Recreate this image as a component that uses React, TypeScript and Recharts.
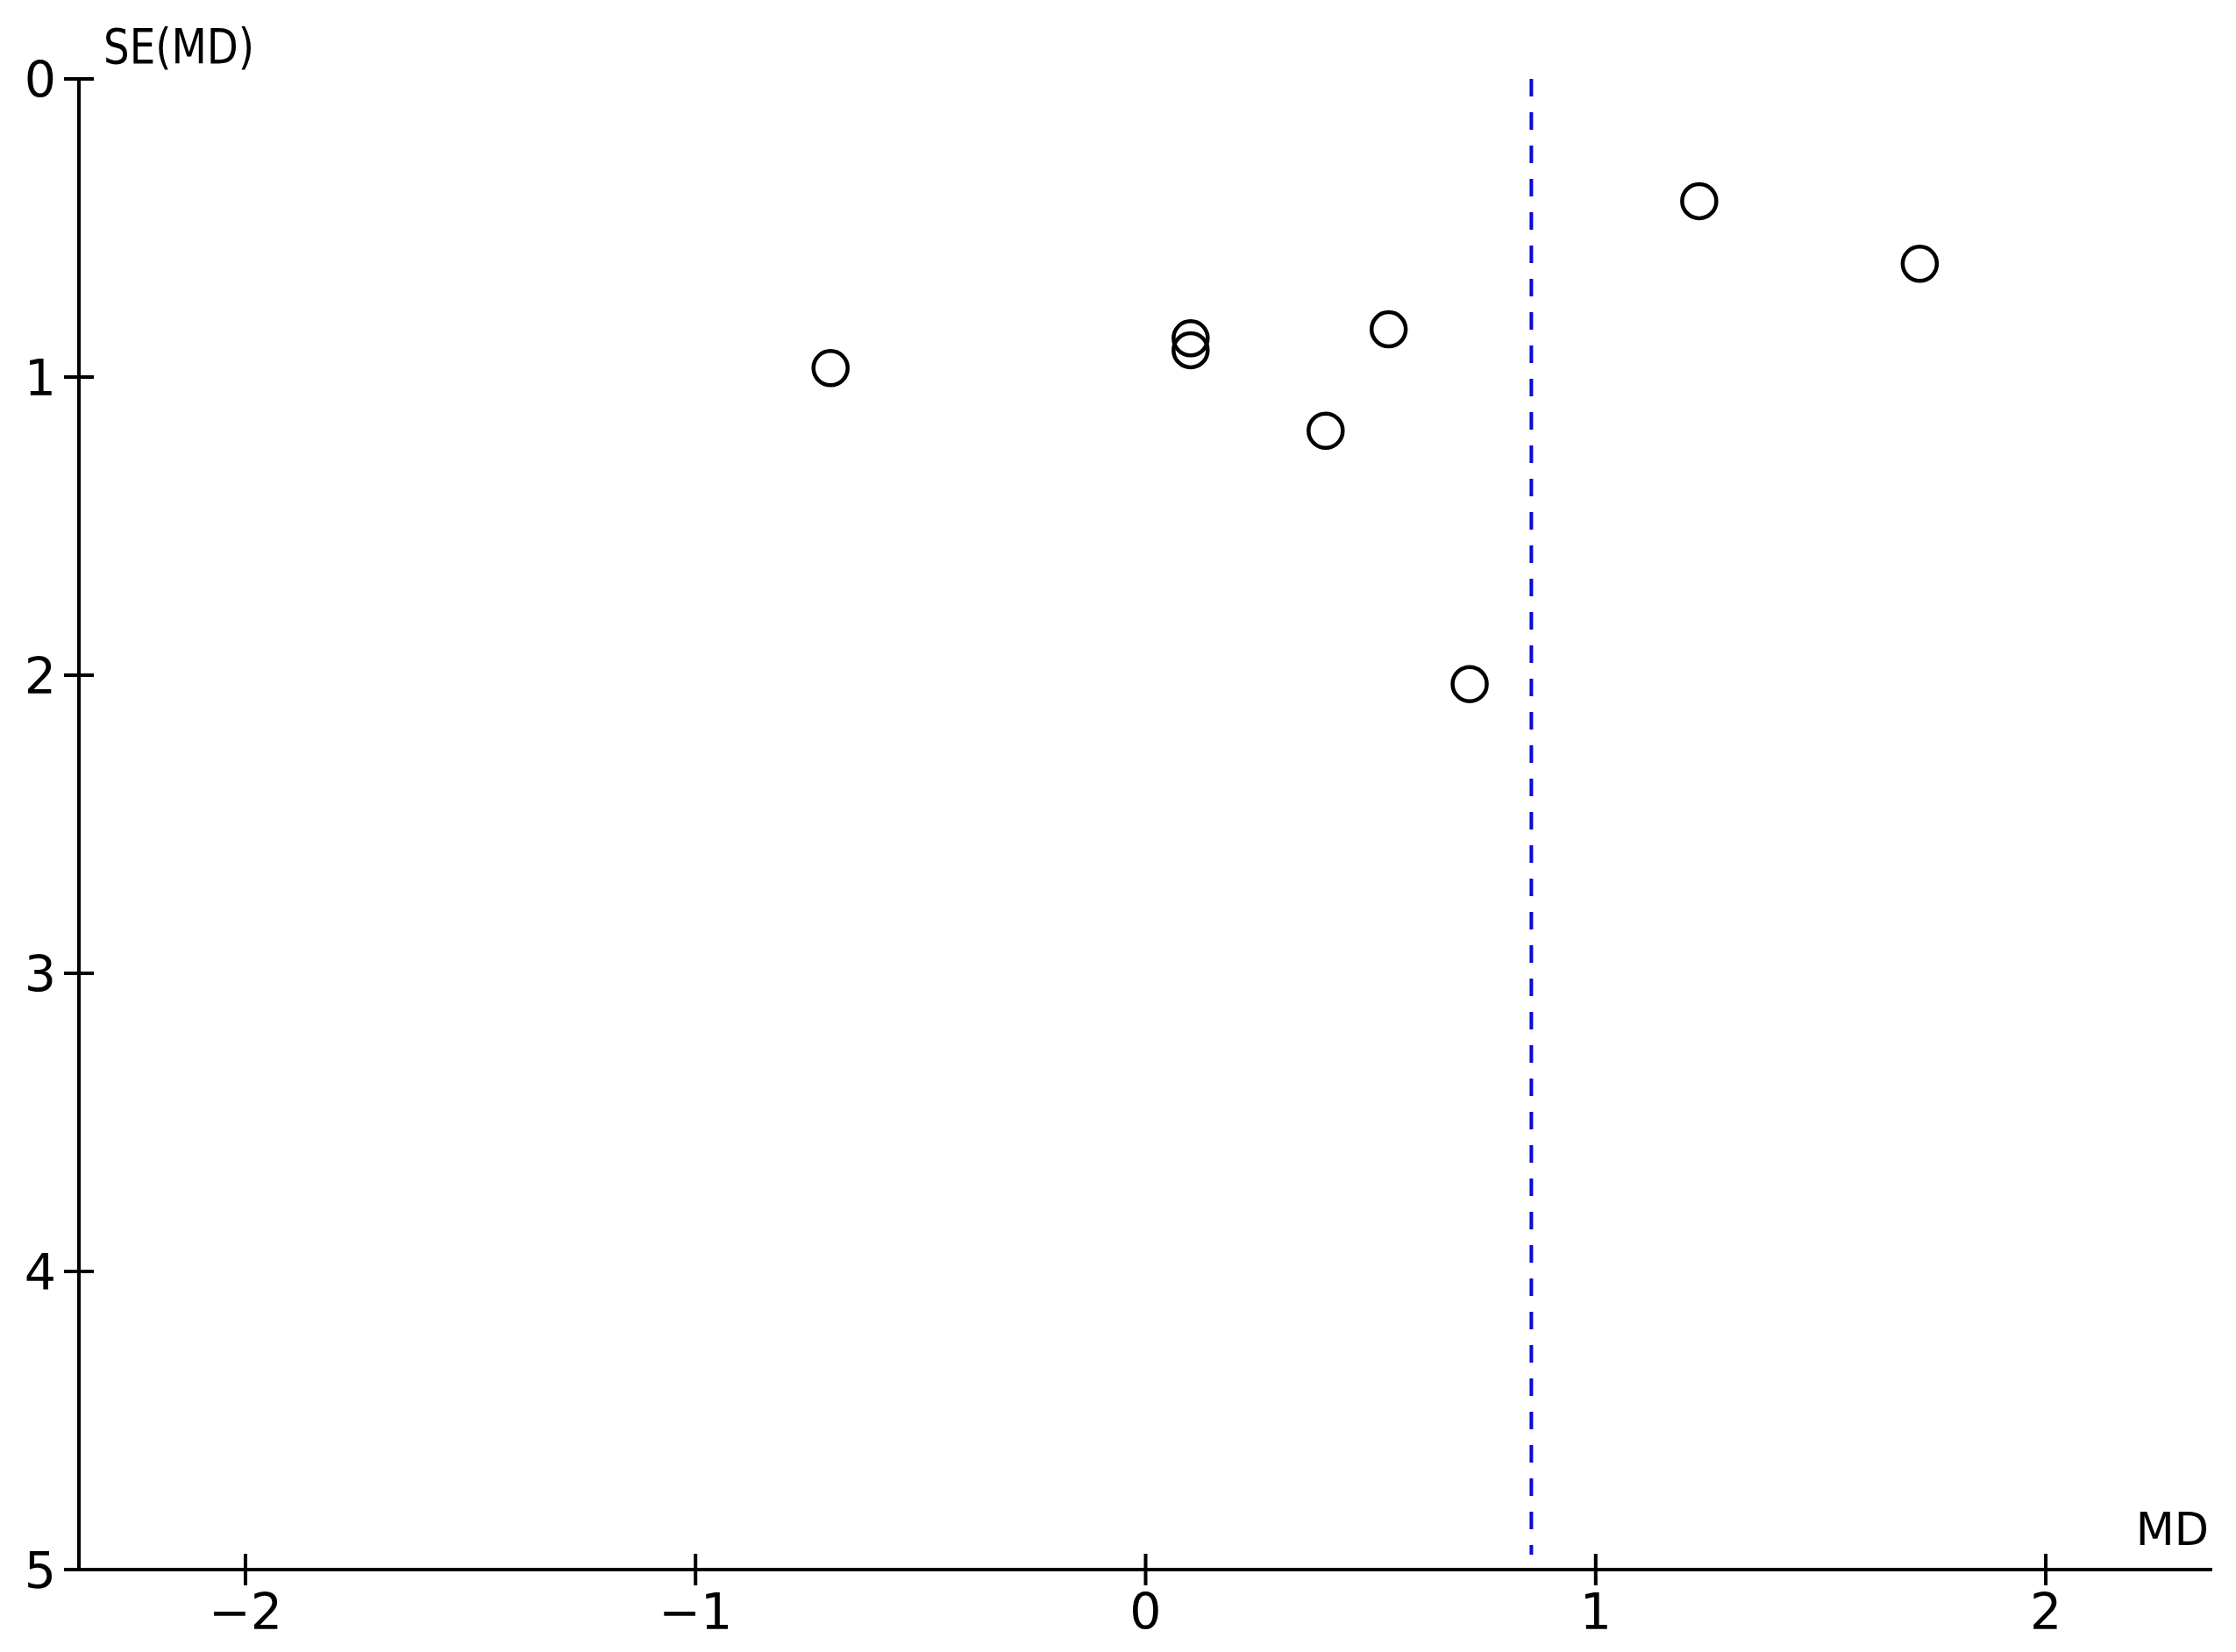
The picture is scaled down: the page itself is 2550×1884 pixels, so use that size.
import React from "react";
import {
  ScatterChart,
  Scatter,
  XAxis,
  YAxis,
  ReferenceLine,
} from "recharts";

// study estimates
const studyMD = [-0.7, 0.1, 0.1, 0.54, 0.4, 0.72, 1.23, 1.72];
const studySE = [0.97, 0.87, 0.91, 0.84, 1.18, 2.03, 0.41, 0.62];

const pooledMD = 0.857;

const xTicks = [-2, -1, 0, 1, 2];
const yTicks = [0, 1, 2, 3, 4, 5];
const xDomain = [-2.37, 2.37];
const yDomain = [0, 5];

const FONT = "'DejaVu Sans', sans-serif";
const INK = "#000";

const data = studyMD.map((md, i) => ({ md, se: studySE[i] }));

const fmt = (v: number) => (v < 0 ? `\u2212${Math.abs(v)}` : `${v}`);

function YTick({ x, y, payload }: any) {
  return (
    <g>
      <line x1={x - 17} x2={x + 17} y1={y} y2={y} stroke={INK} strokeWidth={4} />
      <text
        x={x - 26}
        y={y + 21}
        textAnchor="end"
        fontSize={57}
        fontFamily={FONT}
        fill={INK}
      >
        {fmt(payload.value)}
      </text>
    </g>
  );
}

function XTick({ x, y, payload }: any) {
  return (
    <g>
      <line x1={x} x2={x} y1={y - 18} y2={y + 18} stroke={INK} strokeWidth={4} />
      <text
        x={x}
        y={y + 68}
        textAnchor="middle"
        fontSize={57}
        fontFamily={FONT}
        fill={INK}
      >
        {fmt(payload.value)}
      </text>
    </g>
  );
}

function StudyDot({ cx, cy }: any) {
  return <circle cx={cx} cy={cy} r={19.5} fill="none" stroke={INK} strokeWidth={4.5} />;
}

export default function App() {
  return (
    <div style={{ width: 2534, height: 1868, background: "#fff" }}>
      <ScatterChart
        width={2534}
        height={1868}
        margin={{ top: 82, right: 19, bottom: 6, left: 22 }}
      >
        <XAxis
          type="number"
          dataKey="md"
          domain={xDomain}
          ticks={xTicks}
          allowDataOverflow
          height={80}
          tickLine={false}
          tickSize={0}
          tickMargin={0}
          axisLine={{ stroke: INK, strokeWidth: 4 }}
          tick={<XTick />}
          label={{
            content: ({ viewBox }: any) => (
              <text
                x={viewBox.x + viewBox.width - 4}
                y={viewBox.y - 28}
                textAnchor="end"
                fontSize={51}
                fontFamily={FONT}
                fill={INK}
              >
                MD
              </text>
            ),
          }}
        />
        <YAxis
          type="number"
          dataKey="se"
          domain={yDomain}
          ticks={yTicks}
          reversed
          allowDataOverflow
          width={60}
          tickLine={false}
          tickSize={0}
          tickMargin={0}
          axisLine={{ stroke: INK, strokeWidth: 4 }}
          tick={<YTick />}
          label={{
            content: ({ viewBox }: any) => (
              <text
                x={viewBox.x + viewBox.width + 28}
                y={viewBox.y - 18}
                fontSize={56}
                fontFamily={FONT}
                fill={INK}
                textLength={172}
                lengthAdjust="spacingAndGlyphs"
              >
                SE(MD)
              </text>
            ),
          }}
        />
        <ReferenceLine
          segment={[
            { x: pooledMD, y: 0 },
            { x: pooledMD, y: 4.95 },
          ]}
          stroke="#0a0ad8"
          strokeWidth={4}
          strokeDasharray="20 18"
        />
        <Scatter
          data={data}
          shape={<StudyDot />}
          isAnimationActive={false}
        />
      </ScatterChart>
    </div>
  );
}
